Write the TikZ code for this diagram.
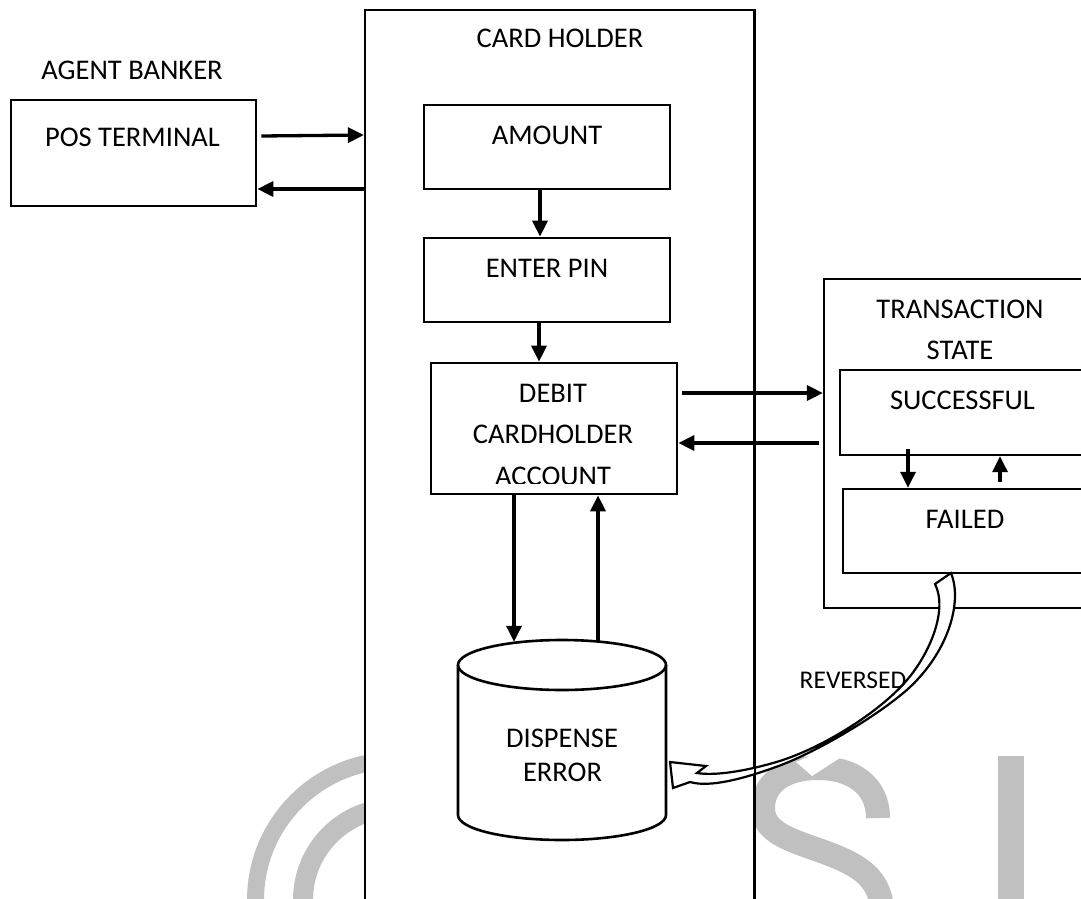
\documentclass[tikz,border=0pt]{standalone}
\usepackage{fontspec}
\setmainfont{Carlito}
\usetikzlibrary{arrows.meta,calc}
\definecolor{wmgray}{RGB}{192,192,192}
\tikzset{
  box/.style={draw, line width=2.7pt, fill=white, inner sep=0pt},
  panel/.style={draw, line width=2.2pt, fill=white, inner sep=0pt},
  lbl/.style={font=\fontsize{28.5}{34}\selectfont, inner sep=0pt, anchor=base},
  small/.style={font=\fontsize{25.5}{30}\selectfont, inner sep=0pt, anchor=base},
  arr/.style={-{Triangle[length=16pt,width=15pt]}, line width=3.3pt},
  wm/.style={draw=wmgray},
  band/.style={draw, fill=white, line width=2.2pt, line join=miter},
  cyl/.style={draw, line width=2.6pt}
}
\begin{document}
\begin{tikzpicture}[x=1pt,y=-1pt]
\useasboundingbox (0,0) rectangle (1081,899);
\clip (0,0) rectangle (1081,899);

% faint watermark behind the diagram
\draw[wm, line width=17pt] (395,900) circle[radius=139.5pt];
\draw[wm, line width=20pt] (395,900) circle[radius=92pt];
\draw[wm, line width=24pt] (878,818) .. controls (878,785) and (852,768) .. (818,768)
  .. controls (782,768) and (763,785) .. (763,808)
  .. controls (763,830) and (785,838) .. (810,847)
  .. controls (850,861) and (880,872) .. (882,910);
\fill[wmgray] (998,756) rectangle (1024,910);

% card holder lane
\node[panel, minimum width=389pt, minimum height=910pt] (holder) at (559.5,465) {};
\node[lbl] (tholder) at (560,48) {CARD HOLDER};

% agent banker
\node[lbl] (tagent) at (132,80) {AGENT BANKER};
\node[box, minimum width=245pt, minimum height=106pt] (pos) at (133.5,153) {};
\node[lbl] (tpos) at (132.5,146.7) {POS TERMINAL};

% card holder steps
\node[box, minimum width=246pt, minimum height=84pt] (amount) at (547,147) {};
\node[lbl] (tamount) at (547,144) {AMOUNT};
\node[box, minimum width=246pt, minimum height=84pt] (pin) at (547,280) {};
\node[lbl] (tpin) at (547,277) {ENTER PIN};
\node[box, minimum width=246pt, minimum height=131pt] (debit) at (554,428.5) {};
\begin{scope}
  \clip (431,363) rectangle (677,483);
  \node[lbl] (tdebit1) at (553,402) {DEBIT};
  \node[lbl] (tdebit2) at (553,443.5) {CARDHOLDER};
  \node[lbl] (tdebit3) at (553,485) {ACCOUNT};
\end{scope}

% dispense error store
\node[inner sep=0pt, minimum width=208pt, minimum height=200pt] (disp) at (562,740) {};
\draw[cyl, fill=white] (458,665) -- (458,815) arc[start angle=180, end angle=360, x radius=104pt, y radius=25pt] -- (666,665);
\draw[cyl] (562,665) ellipse[x radius=104pt, y radius=25pt];
\node[lbl] (tdisp1) at (562,747) {DISPENSE};
\node[lbl] (tdisp2) at (562.5,781) {ERROR};

% transaction state
\node[panel, minimum width=276pt, minimum height=329pt] (state) at (962,443.5) {};
\node[lbl] (tstate1) at (960,318) {TRANSACTION};
\node[lbl] (tstate2) at (960,359) {STATE};
\node[box, line width=2.4pt, minimum width=260pt, minimum height=85pt] (success) at (970,412.5) {};
\node[lbl] (tsuccess) at (962.5,409) {SUCCESSFUL};
\node[box, line width=2.4pt, minimum width=257pt, minimum height=84pt] (failed) at (971.5,531) {};
\node[lbl] (tfailed) at (965,528) {FAILED};

% connectors
\draw[arr] ($(pos.east)+(4,-17)$) -- ($(holder.west |- pos.east)+(0,-18)$);
\draw[arr] ($(holder.west |- pos.east)+(0,36)$) -- ($(pos.east)+(0,36)$);

\coordinate (a1) at ($(amount.south)+(-7,0)$);
\draw[arr] (a1) -- (a1 |- pin.north);
\coordinate (p1) at ($(pin.south)+(-8,0)$);
\draw[arr] (p1) -- (p1 |- debit.north);

\coordinate (d1) at ($(debit.east)+(4,-35.5)$);
\draw[arr] (d1) -- (d1 -| state.west);
\coordinate (s1) at ($(state.west |- debit.east)+(-4,14.5)$);
\draw[arr] (s1) -- (s1 -| debit.east);

\coordinate (u1) at ($(success.south)+(-62,-7)$);
\draw[arr] (u1) -- (u1 |- failed.north);
\coordinate (f1) at ($(failed.north)+(28.5,-6)$);
\draw[arr] (f1) -- (f1 |- success.south);

\coordinate (d2) at ($(debit.south)+(-40,0)$);
\draw[arr] (d2) -- ($(d2 |- disp.north)+(0,2)$);
\coordinate (d3) at ($(debit.south)+(44,0)$);
\draw[arr] ($(d3 |- disp.north)+(0,1.5)$) -- (d3);

% curved reversal arrow from FAILED back to the store
\fill[white] (796,762) -- (812,776) -- (843,756) -- (843,742) -- cycle;
\draw[band] (951,573)
  .. controls (962,600) and (950,645) .. (917,680)
  .. controls (895,705) and (820,752) .. (773,768)
  .. controls (745,778) and (710,788) .. (690,782)
  -- (673,788) -- (670,762) -- (706,766) -- (697,773)
  .. controls (715,776) and (745,771) .. (773,763)
  .. controls (820,750) and (880,712) .. (907,680)
  .. controls (930,653) and (948,610) .. (935,584)
  -- cycle;
\node[small] (trev) at (853,688) {REVERSED};

% lane border stays on top of the curved arrow
\draw[line width=2.2pt] (holder.north east) -- (holder.south east);
\end{tikzpicture}
\end{document}
